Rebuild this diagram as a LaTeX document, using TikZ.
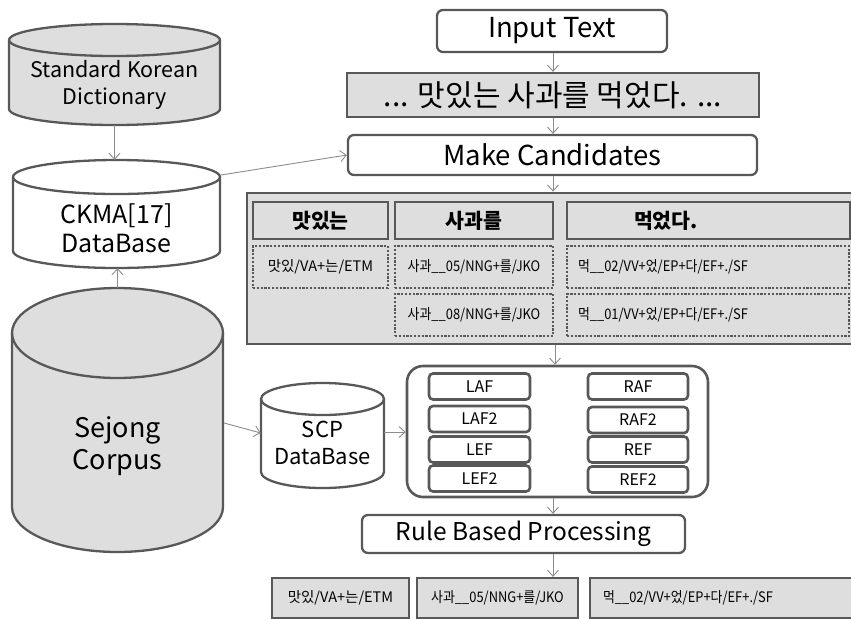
\documentclass[tikz,border=0pt]{standalone}
\usepackage{fontspec}
\setmainfont{Noto Sans CJK KR}
\newfontfamily\narrowkr[FakeStretch=0.89]{Noto Sans CJK KR}
\usetikzlibrary{arrows.meta}

\definecolor{edge}{RGB}{88,88,88}
\definecolor{fillgray}{RGB}{222,222,222}
\definecolor{arrowgray}{RGB}{140,140,140}

\tikzset{
  flow/.style={draw=arrowgray, line width=0.9pt, -{Straight Barb[length=6pt,width=11pt]}},
  roundbox/.style={draw=edge, line width=2.3pt, rounded corners=6pt, fill=white, inner sep=0pt},
  graybox/.style={draw=edge, line width=2.3pt, fill=fillgray, inner sep=0pt},
  headbox/.style={draw=edge, line width=2.6pt, fill=fillgray, inner sep=0pt,
    font=\fontsize{20.5}{23}\selectfont\bfseries},
  candbox/.style={draw=edge, line width=2.4pt, dash pattern=on 2.2pt off 1.6pt,
    fill=fillgray, inner sep=0pt, font=\fontsize{14.5}{16}\selectfont},
  outbox/.style={graybox, minimum height=40pt, font=\fontsize{14.5}{16}\selectfont},
  tag/.style={inner sep=0pt, font=\fontsize{14.5}{16}\selectfont},
  narrow/.style={font=\fontsize{14.5}{16}\narrowkr},
  featbox/.style={draw=edge, line width=2.6pt, rounded corners=4pt, fill=white,
    inner sep=0pt, minimum height=26pt, font=\fontsize{16}{18}\selectfont},
  area/.style={inner sep=0pt, draw=none},
  cyltext/.style={align=center, inner sep=0pt},
}

% vertical database cylinder: centre x, top y, bottom y, half width, rim radius, fill
\newcommand\dbdrum[6]{%
  \pgfmathsetmacro\cylL{#1-#4}\pgfmathsetmacro\cylR{#1+#4}%
  \pgfmathsetmacro\cylT{-(#2+#5)}\pgfmathsetmacro\cylB{-(#3-#5)}%
  \draw[draw=edge, line width=2.3pt, fill=#6]
    (\cylL,\cylT) -- (\cylL,\cylB)
    arc[start angle=180, end angle=360, x radius=#4, y radius=#5]
    -- (\cylR,\cylT)
    arc[start angle=0, end angle=180, x radius=#4, y radius=#5] -- cycle;
  \draw[draw=edge, line width=2.3pt]
    (\cylL,\cylT) arc[start angle=180, end angle=360, x radius=#4, y radius=#5];
}

\begin{document}
\begin{tikzpicture}[x=1pt,y=1pt]
\useasboundingbox (0,0) rectangle (851,-619);

% ---- databases on the left ----
\dbdrum{114.5}{24}{125}{105.5}{16}{fillgray}
\node[area, minimum width=211pt, minimum height=101pt] (dict) at (114.5,-74.5) {};
\node[cyltext, font=\fontsize{21.5}{27}\selectfont] (dictlbl) at (114.5,-85) {Standard Korean\\Dictionary};

\dbdrum{116.5}{160}{268}{103.5}{17}{white}
\node[area, minimum width=207pt, minimum height=108pt] (ckma) at (116.5,-214) {};
\node[cyltext, font=\fontsize{25}{29}\selectfont] (ckmalbl) at (116.5,-228) {CKMA[17]\\DataBase};
\coordinate (ckmarim) at (221,-175);

\dbdrum{117.5}{288}{552}{105.5}{45}{fillgray}
\node[area, minimum width=211pt, minimum height=264pt] (sejong) at (117.5,-420) {};
\node[cyltext, font=\fontsize{27}{32}\selectfont] (sejonglbl) at (117.5,-446) {Sejong\\Corpus};
\coordinate (sejongside) at (224,-423);

\dbdrum{322.5}{383}{488}{61.5}{16}{white}
\node[area, minimum width=123pt, minimum height=105pt] (scp) at (322.5,-433) {};
\node[cyltext, font=\fontsize{22}{27}\selectfont] (scplbl) at (322.5,-443) {SCP\\DataBase};

% ---- main pipeline ----
\node[roundbox, minimum width=230pt, minimum height=42pt, font=\fontsize{27.5}{30}\selectfont]
  (input) at (552,-31) {Input Text};
\node[graybox, minimum width=412pt, minimum height=44pt, font=\fontsize{30}{32}\selectfont]
  (sent) at (553,-95) {... 맛있는 사과를 먹었다. ...};
\node[roundbox, minimum width=409pt, minimum height=40pt, font=\fontsize{27.5}{30}\selectfont]
  (make) at (552.5,-155) {Make Candidates};

% candidate panel
\node[draw=edge, line width=2.8pt, fill=fillgray, inner sep=0pt,
  minimum width=615pt, minimum height=151pt] (cands) at (554.5,-268.5) {};
\node[headbox, minimum width=135pt, minimum height=37pt] (h1) at (320.5,-220.5) {맛있는};
\node[headbox, minimum width=158pt, minimum height=37pt] (h2) at (474,-220.5) {사과를};
\node[headbox, minimum width=283pt, minimum height=37pt] (h3) at (708.5,-220.5) {};
\node[inner sep=0pt, font=\fontsize{20.5}{23}\selectfont\bfseries] (h3lbl) at (666,-220.5) {먹었다.};
\node[candbox, minimum width=135pt, minimum height=42pt] (c11) at (320.5,-267) {맛있/VA+는/ETM};
\node[candbox, minimum width=158pt, minimum height=42pt, narrow] (c21) at (474,-267) {사과\_\_05/NNG+를/JKO};
\node[candbox, minimum width=158pt, minimum height=42pt, narrow] (c22) at (474,-315) {사과\_\_08/NNG+를/JKO};
\node[candbox, minimum width=282pt, minimum height=42pt] (c31) at (708,-267) {};
\node[candbox, minimum width=282pt, minimum height=42pt] (c32) at (708,-315) {};
\node[tag, narrow] (c31lbl) at (663,-267) {먹\_\_02/VV+었/EP+다/EF+./SF};
\node[tag, narrow] (c32lbl) at (663,-315) {먹\_\_01/VV+었/EP+다/EF+./SF};

% feature tables
\node[draw=edge, line width=2.6pt, rounded corners=16pt, fill=white, inner sep=0pt,
  minimum width=301pt, minimum height=131pt] (rules) at (557.5,-431.5) {};
\node[featbox, minimum width=101pt] (laf)  at (479.5,-386.5) {LAF};
\node[featbox, minimum width=101pt] (laf2) at (479.5,-419)   {LAF2};
\node[featbox, minimum width=101pt] (lef)  at (479.5,-449.5) {LEF};
\node[featbox, minimum width=101pt] (lef2) at (479.5,-478.5) {LEF2};
\node[featbox, minimum width=100pt] (raf)  at (638,-386.5) {RAF};
\node[featbox, minimum width=100pt] (raf2) at (638,-420)   {RAF2};
\node[featbox, minimum width=100pt] (ref)  at (638,-449.5) {REF};
\node[featbox, minimum width=100pt] (ref2) at (638,-479.5) {REF2};

\node[roundbox, minimum width=323pt, minimum height=38pt, font=\fontsize{24.5}{27}\selectfont]
  (rbp) at (523.5,-534) {Rule Based Processing};

% final results
\node[outbox, minimum width=137pt] (o1) at (340.5,-598) {맛있/VA+는/ETM};
\node[outbox, minimum width=161pt, narrow] (o2) at (497.5,-598) {사과\_\_05/NNG+를/JKO};
\node[outbox, minimum width=270pt] (o3) at (725,-598) {};
\node[tag, narrow] (o3lbl) at (688,-598) {먹\_\_02/VV+었/EP+다/EF+./SF};

% ---- connectors ----
\coordinate (spine) at (553,0);
\draw[flow] (dict.south) -- (dict.south |- ckma.north);
\draw[flow] (sejong.north) -- (sejong.north |- ckma.south);
\draw[flow] (ckmarim) -- (make.west);
\draw[flow] (sejongside) -- (scp.west);
\draw[flow] (scp.east |- 0,-432) -- (rules.west |- 0,-432);
\draw[flow] (spine |- input.south) -- (spine |- sent.north);
\draw[flow] (spine |- sent.south) -- (spine |- make.north);
\draw[flow] (spine |- make.south) -- (spine |- cands.north);
\draw[flow] (cands.south -| 555,0) -- (rules.north -| 555,0);
\draw[flow] (spine |- rules.south) -- (spine |- rbp.north);
\draw[flow] (spine |- rbp.south) -- (spine |- o2.north);
\end{tikzpicture}
\end{document}
